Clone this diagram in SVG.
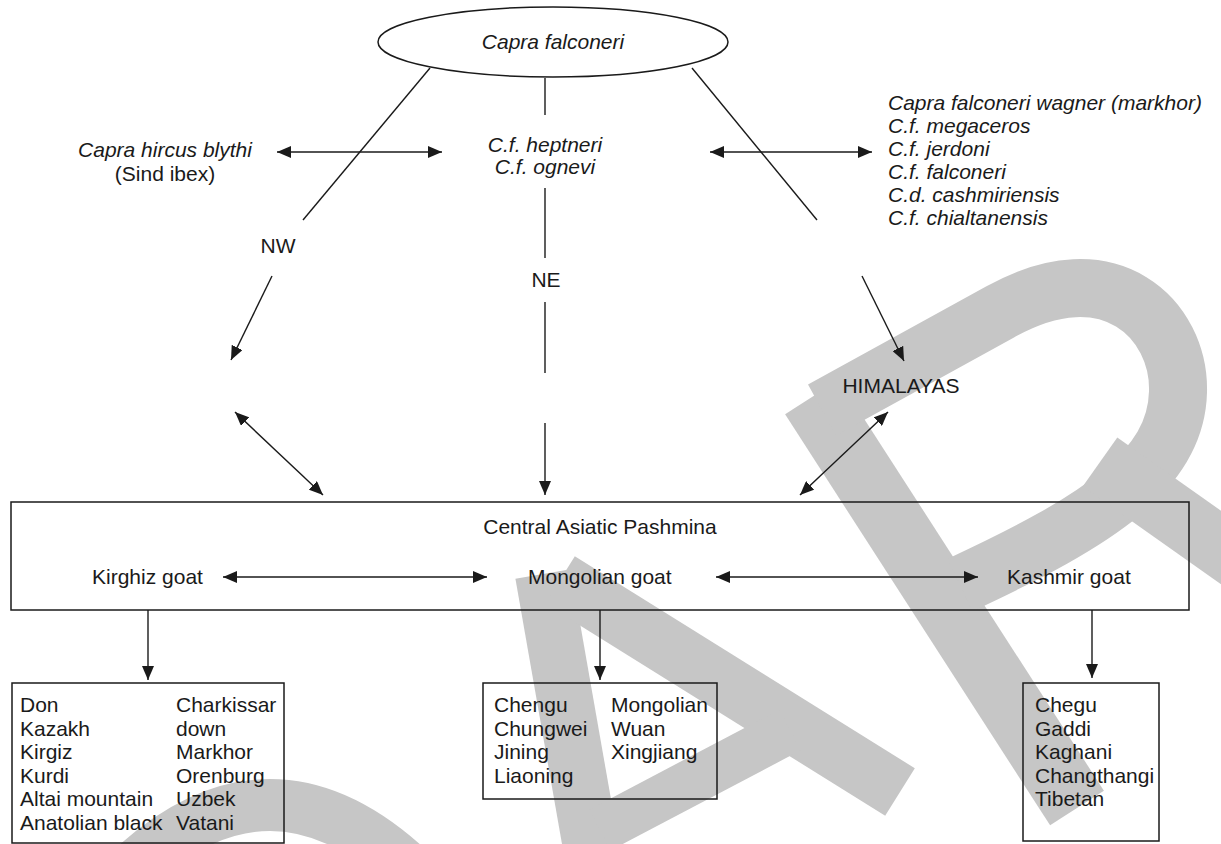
<svg xmlns="http://www.w3.org/2000/svg" width="1221" height="844" viewBox="0 0 1221 844">
<style>
text{font-family:"Liberation Sans",Arial,sans-serif;font-size:21px;fill:#1a1a1a}
.it{font-style:italic}
.mid{text-anchor:middle}
.ln{stroke:#1a1a1a;stroke-width:1.4;fill:none}
.bx{stroke:#1a1a1a;stroke-width:1.5;fill:none}
.wm{stroke:#c6c6c6;fill:none}
</style>
<defs>
<marker id="ah" markerUnits="userSpaceOnUse" markerWidth="14" markerHeight="12" refX="14" refY="6" orient="auto-start-reverse">
<path d="M0,0 L14,6 L0,12 z" fill="#1a1a1a"/>
</marker>
</defs>
<rect width="1221" height="844" fill="#fff"/>
<g id="watermark">
<path class="wm" stroke-width="52" d="M120,880 Q270,730 420,880"/>
<line class="wm" stroke-width="56" x1="543" y1="574" x2="595" y2="870"/>
<line class="wm" stroke-width="56" x1="560" y1="580" x2="900" y2="792"/>
<line class="wm" stroke-width="46" x1="600" y1="830" x2="790" y2="730"/>
<line class="wm" stroke-width="64" x1="812" y1="397" x2="1077" y2="808"/>
<path class="wm" stroke-width="58" d="M822,410 L1000,312 C1110,250 1180,320 1178,392 C1176,470 1100,520 960,585"/>
<line class="wm" stroke-width="60" x1="1100" y1="462" x2="1260" y2="575"/>
</g>
<g id="n-capra-falconeri">
<ellipse class="bx" cx="553" cy="42" rx="175" ry="35"/>
<text class="it mid" x="553" y="49">Capra falconeri</text>
</g>
<g id="n-sind-ibex">
<text class="it mid" x="165" y="157">Capra hircus blythi</text>
<text class="mid" x="165" y="181">(Sind ibex)</text>
</g>
<g id="n-heptneri">
<text class="it mid" x="545" y="152">C.f. heptneri</text>
<text class="it mid" x="545" y="174">C.f. ognevi</text>
</g>
<g id="n-markhor">
<text class="it" x="888" y="110">Capra falconeri wagner (markhor)</text>
<text class="it" x="888" y="133">C.f. megaceros</text>
<text class="it" x="888" y="156">C.f. jerdoni</text>
<text class="it" x="888" y="179">C.f. falconeri</text>
<text class="it" x="888" y="202">C.d. cashmiriensis</text>
<text class="it" x="888" y="225">C.f. chialtanensis</text>
</g>
<g id="n-nw"><text class="mid" x="278" y="253">NW</text></g>
<g id="n-ne"><text class="mid" x="546" y="287">NE</text></g>
<g id="n-himalayas"><text class="mid" x="901" y="393">HIMALAYAS</text></g>
<g id="n-central">
<rect class="bx" x="11" y="502" width="1178" height="108"/>
<text class="mid" x="600" y="534">Central Asiatic Pashmina</text>
<text x="92" y="584">Kirghiz goat</text>
<text x="528" y="584">Mongolian goat</text>
<text x="1007" y="584">Kashmir goat</text>
</g>
<g id="n-kirghiz-breeds">
<rect class="bx" x="12" y="683" width="272" height="160"/>
<text x="20" y="712">Don</text>
<text x="20" y="736">Kazakh</text>
<text x="20" y="759">Kirgiz</text>
<text x="20" y="783">Kurdi</text>
<text x="20" y="806">Altai mountain</text>
<text x="20" y="830">Anatolian black</text>
<text x="176" y="712">Charkissar</text>
<text x="176" y="736">down</text>
<text x="176" y="759">Markhor</text>
<text x="176" y="783">Orenburg</text>
<text x="176" y="806">Uzbek</text>
<text x="176" y="830">Vatani</text>
</g>
<g id="n-mongolian-breeds">
<rect class="bx" x="483" y="683" width="234" height="116"/>
<text x="494" y="712">Chengu</text>
<text x="494" y="736">Chungwei</text>
<text x="494" y="759">Jining</text>
<text x="494" y="783">Liaoning</text>
<text x="611" y="712">Mongolian</text>
<text x="611" y="736">Wuan</text>
<text x="611" y="759">Xingjiang</text>
</g>
<g id="n-kashmir-breeds">
<rect class="bx" x="1023" y="683" width="136" height="158"/>
<text x="1035" y="712">Chegu</text>
<text x="1035" y="736">Gaddi</text>
<text x="1035" y="759">Kaghani</text>
<text x="1035" y="783">Changthangi</text>
<text x="1035" y="806">Tibetan</text>
</g>
<g id="connectors">
<line class="ln" x1="277" y1="152" x2="442" y2="152" marker-start="url(#ah)" marker-end="url(#ah)"/>
<line class="ln" x1="710" y1="152" x2="872" y2="152" marker-start="url(#ah)" marker-end="url(#ah)"/>
<line class="ln" x1="430" y1="68" x2="303" y2="220"/>
<line class="ln" x1="692" y1="68" x2="817" y2="220"/>
<line class="ln" x1="545" y1="78" x2="545" y2="115"/>
<line class="ln" x1="545" y1="188" x2="545" y2="258"/>
<line class="ln" x1="545" y1="302" x2="545" y2="373"/>
<line class="ln" x1="545" y1="423" x2="545" y2="495" marker-end="url(#ah)"/>
<line class="ln" x1="272" y1="276" x2="231" y2="360" marker-end="url(#ah)"/>
<line class="ln" x1="235" y1="412" x2="323" y2="495" marker-start="url(#ah)" marker-end="url(#ah)"/>
<line class="ln" x1="862" y1="276" x2="904" y2="361" marker-end="url(#ah)"/>
<line class="ln" x1="888" y1="412" x2="800" y2="495" marker-start="url(#ah)" marker-end="url(#ah)"/>
<line class="ln" x1="223" y1="577" x2="487" y2="577" marker-start="url(#ah)" marker-end="url(#ah)"/>
<line class="ln" x1="716" y1="577" x2="978" y2="577" marker-start="url(#ah)" marker-end="url(#ah)"/>
<line class="ln" x1="148" y1="610" x2="148" y2="680" marker-end="url(#ah)"/>
<line class="ln" x1="600" y1="610" x2="600" y2="680" marker-end="url(#ah)"/>
<line class="ln" x1="1092" y1="610" x2="1092" y2="678" marker-end="url(#ah)"/>
</g>
</svg>
